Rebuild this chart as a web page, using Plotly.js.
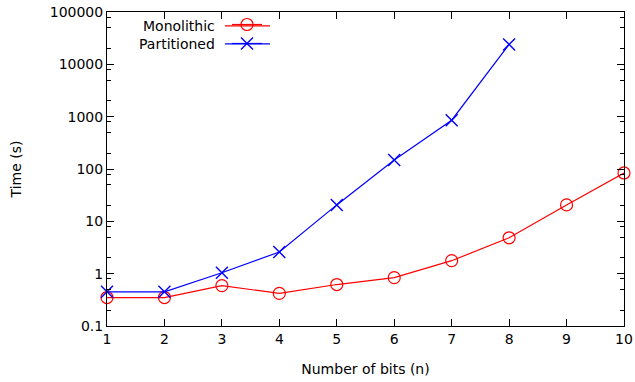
<!DOCTYPE html>
<html><head><meta charset="utf-8">
<script src="https://cdn.plot.ly/plotly-3.0.1.min.js"></script>
<style>html,body{margin:0;padding:0;background:#fff}#c{width:635px;height:382px}</style>
</head><body><div id="c"></div>
<script>
const bits = [1,2,3,4,5,6,7,8,9,10];
const monolithic = [0.35,0.35,0.59,0.42,0.62,0.84,1.77,4.85,20.6,84];
const partitionedBits = [1,2,3,4,5,6,7,8];
const partitioned = [0.45,0.45,1.04,2.6,20.6,148,855,24000];
const yTickVals = [0.1,1,10,100,1000,10000,100000];
const yTickText = ['0.1','1','10','100','1000','10000','100000'];
const yMinorVals = [];
for (let e=-1;e<5;e++){ [2,5,8].forEach(m=>yMinorVals.push(m*Math.pow(10,e))); }
const seriesNames = ['Monolithic','Partitioned'];
const seriesColors = ['#ff0000','#0000ff'];

const font = {family:'DejaVu Sans, sans-serif', size:14, color:'#000'};
const traces = [
  {x:bits, y:monolithic, name:'', mode:'lines+markers', type:'scatter',
   line:{color:seriesColors[0], width:1.2},
   marker:{symbol:'circle-open', size:12, color:seriesColors[0], line:{width:1.2, color:seriesColors[0]}},
   cliponaxis:false},
  {x:partitionedBits, y:partitioned, name:'', mode:'lines+markers', type:'scatter',
   line:{color:seriesColors[1], width:1.2},
   marker:{symbol:'x-thin-open', size:12, color:seriesColors[1], line:{width:1.4, color:seriesColors[1]}},
   cliponaxis:false}
];
const legRows = [25, 43];
const px2x = p => (p-107)/517, px2y = p => (326-p)/315;
const shapes = legRows.map((r,i)=>({type:'line', xref:'paper', yref:'paper', x0:px2x(225), x1:px2x(270),
  y0:px2y(r), y1:px2y(r), line:{color:seriesColors[i], width:1.2}}));
const layout = {
  width:635, height:382,
  margin:{l:107, r:11, t:11, b:56},
  paper_bgcolor:'#fff', plot_bgcolor:'#fff',
  font:font,
  showlegend:true,
  legend:{x:px2x(227), y:px2y(10), xanchor:'left', yanchor:'top', bgcolor:'rgba(0,0,0,0)',
          font:{family:'DejaVu Sans, sans-serif', size:9}, tracegroupgap:0, itemwidth:30},
  shapes:shapes,
  xaxis:{range:[1,10], tickvals:bits, ticks:'inside', ticklen:7, tickcolor:'#000',
         showline:true, linecolor:'#000', linewidth:1, mirror:'ticks', showgrid:false, zeroline:false,
         tickfont:font, title:{text:'Number of bits (n)', font:font, standoff:18}},
  yaxis:{type:'log', range:[-1,5], tickvals:yTickVals, ticktext:yTickText, ticks:'inside', ticklen:7,
         tickcolor:'#000', showline:true, linecolor:'#000', linewidth:1, mirror:'ticks', showgrid:false,
         zeroline:false, tickfont:font,
         minor:{tickvals:yMinorVals, ticks:'inside', ticklen:4, tickcolor:'#000', showgrid:false},
         title:{text:'Time (s)', font:font, standoff:24}},
  annotations:[
    {xref:'paper', yref:'paper', x:px2x(217), y:px2y(legRows[0]), xanchor:'right', yanchor:'middle',
     text:seriesNames[0], showarrow:false, font:font},
    {xref:'paper', yref:'paper', x:px2x(217), y:px2y(legRows[1]), xanchor:'right', yanchor:'middle',
     text:seriesNames[1], showarrow:false, font:font}
  ]
};
Plotly.newPlot('c', traces, layout, {displayModeBar:false, staticPlot:true});
</script></body></html>
